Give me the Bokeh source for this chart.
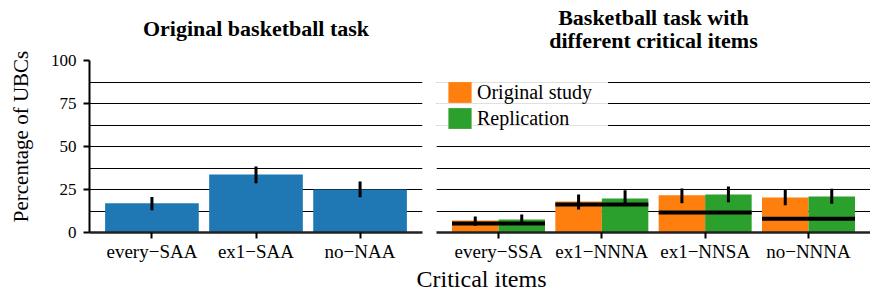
import math
from bokeh.plotting import figure
from bokeh.models import (ColumnDataSource, FactorRange, Range1d, FixedTicker, Label,
                          Legend, LegendItem, BoxAnnotation)
from bokeh.transform import dodge
from bokeh.layouts import row, column
from bokeh.embed import file_html
from bokeh.resources import INLINE

# ---------------- data ----------------
M = "\u2212"
left_cats = [f"every{M}SAA", f"ex1{M}SAA", f"no{M}NAA"]
left_vals = [17.0, 33.7, 25.0]
left_lo = [13.0, 28.7, 20.5]
left_hi = [20.7, 38.4, 29.7]

right_cats = [f"every{M}SSA", f"ex1{M}NNNA", f"ex1{M}NNSA", f"no{M}NNNA"]
orig_vals = [7.0, 18.0, 21.7, 20.3]
orig_lo = [3.9, 13.4, 17.0, 15.9]
orig_hi = [9.3, 22.1, 25.6, 24.8]
repl_vals = [7.6, 19.8, 22.1, 20.9]
repl_lo = [5.6, 16.1, 17.6, 16.7]
repl_hi = [10.5, 24.6, 26.7, 25.4]
baseline = [5.2, 16.3, 11.6, 8.0]

y_major = [0, 25, 50, 75, 100]
y_grid = [0, 12.5, 25, 37.5, 50, 62.5, 75, 87.5, 100]

FONT = "Liberation Serif"
BLUE, ORANGE, GREEN = "#1f77b4", "#ff7f0e", "#2ca02c"
TOP_H, MID_H, H = 52, 212, 293
W_LAB, W_L, W_R = 40, 389, 441


def blank(width, height):
    f = figure(width=width, height=height, x_range=Range1d(0, 1), y_range=Range1d(0, 1),
               x_axis_type=None, y_axis_type=None, output_backend="svg",
               toolbar_location=None, min_border=0)
    f.outline_line_color = None
    f.grid.visible = False
    return f


def text(f, x, y, s, size="22px", bold=False, angle=0.0):
    f.add_layout(Label(x=x, y=y, x_units="screen", y_units="screen", text=s, angle=angle,
                       text_align="center", text_baseline="middle", text_font=FONT,
                       text_font_size=size, text_font_style="bold" if bold else "normal",
                       text_color="black"))


def style(p):
    p.outline_line_color = None
    p.xgrid.visible = False
    p.ygrid.ticker = FixedTicker(ticks=y_grid)
    p.ygrid.grid_line_color = "black"
    p.ygrid.grid_line_width = 1
    p.xaxis.axis_line_color = "#222222"
    p.xaxis.axis_line_width = 2.5
    p.xaxis.major_tick_line_width = 2
    p.xaxis.major_tick_out = 6
    p.xaxis.major_tick_in = 0
    p.xaxis.minor_tick_line_color = None
    p.xaxis.major_label_text_font = FONT
    p.xaxis.major_label_text_font_size = "19px"
    p.xaxis.major_label_text_color = "black"
    p.xaxis.major_label_standoff = 2


# ---------------- y label (full height strip) ----------------
yl = blank(W_LAB, H)
text(yl, 20, H - 136, "Percentage of UBCs", size="21px", angle=math.pi / 2)

# ---------------- titles row ----------------
t1 = blank(W_L, TOP_H)
text(t1, 255.5 - W_LAB, TOP_H - 28, "Original basketball task", bold=True)
t2 = blank(W_R, TOP_H)
text(t2, 224, TOP_H - 17, "Basketball task with", bold=True)
text(t2, 224, TOP_H - 39.8, "different critical items", bold=True)

# ---------------- left panel ----------------
p1 = figure(width=W_L, height=MID_H, x_range=FactorRange(*left_cats, range_padding=0.1,
            range_padding_units="absolute"), y_range=Range1d(0, 100),
            output_backend="svg", toolbar_location=None,
            min_border_left=49, min_border_right=7, min_border_top=8, min_border_bottom=32)
style(p1)
p1.yaxis.ticker = FixedTicker(ticks=y_major)
p1.yaxis.axis_line_width = 2
p1.yaxis.axis_line_color = "black"
p1.yaxis.major_tick_line_width = 2
p1.yaxis.major_tick_out = 6
p1.yaxis.major_tick_in = 0
p1.yaxis.minor_tick_line_color = None
p1.yaxis.major_label_text_font = FONT
p1.yaxis.major_label_text_font_size = "17px"
p1.yaxis.major_label_text_color = "black"
p1.yaxis.major_label_standoff = 7

src1 = ColumnDataSource(dict(x=left_cats, top=left_vals, lo=left_lo, hi=left_hi))
p1.vbar(x="x", top="top", bottom=0, width=0.9, source=src1, fill_color=BLUE, line_color=None)
p1.segment(x0="x", x1="x", y0="lo", y1="hi", source=src1, line_color="black", line_width=3)

# ---------------- right panel ----------------
xr2 = FactorRange(*right_cats, range_padding=0.1, range_padding_units="absolute")
p2 = figure(width=W_R, height=MID_H, x_range=xr2, y_range=Range1d(0, 100),
            output_backend="svg", toolbar_location=None,
            min_border_left=7, min_border_right=0, min_border_top=8, min_border_bottom=32)
style(p2)
p2.yaxis.visible = False

# translucent white patch behind the legend
p2.add_layout(BoxAnnotation(left=-0.1, right=1.56, top=100, bottom=56.5,
                            fill_color="white", fill_alpha=0.88, line_color=None))

src2 = ColumnDataSource(dict(x=right_cats, o=orig_vals, olo=orig_lo, ohi=orig_hi,
                             r=repl_vals, rlo=repl_lo, rhi=repl_hi, b=baseline))
ro = p2.vbar(x=dodge("x", -0.225, range=xr2), top="o", bottom=0, width=0.45, source=src2,
             fill_color=ORANGE, line_color=None)
rr = p2.vbar(x=dodge("x", 0.225, range=xr2), top="r", bottom=0, width=0.45, source=src2,
             fill_color=GREEN, line_color=None)
p2.segment(x0=dodge("x", -0.45, range=xr2), x1=dodge("x", 0.45, range=xr2), y0="b", y1="b",
           source=src2, line_color="black", line_width=4)
p2.segment(x0=dodge("x", -0.225, range=xr2), x1=dodge("x", -0.225, range=xr2), y0="olo",
           y1="ohi", source=src2, line_color="black", line_width=3)
p2.segment(x0=dodge("x", 0.225, range=xr2), x1=dodge("x", 0.225, range=xr2), y0="rlo",
           y1="rhi", source=src2, line_color="black", line_width=3)

legend = Legend(items=[LegendItem(label="Original study", renderers=[ro]),
                       LegendItem(label="Replication", renderers=[rr])],
                location=(9, 101), margin=0, padding=10, spacing=0,
                glyph_width=29, glyph_height=26, label_standoff=3,
                label_text_font=FONT, label_text_font_size="20px", label_text_color="black",
                border_line_color=None, background_fill_alpha=0)
p2.add_layout(legend, "center")

# ---------------- shared x label ----------------
p3 = blank(W_L + W_R, H - TOP_H - MID_H)
text(p3, 481 - W_LAB, 15, "Critical items", size="24px")

layout = row(yl,
             column(row(t1, t2, spacing=0), row(p1, p2, spacing=0), p3, spacing=0),
             spacing=0)
open("out.html", "w").write(file_html(layout, INLINE))
